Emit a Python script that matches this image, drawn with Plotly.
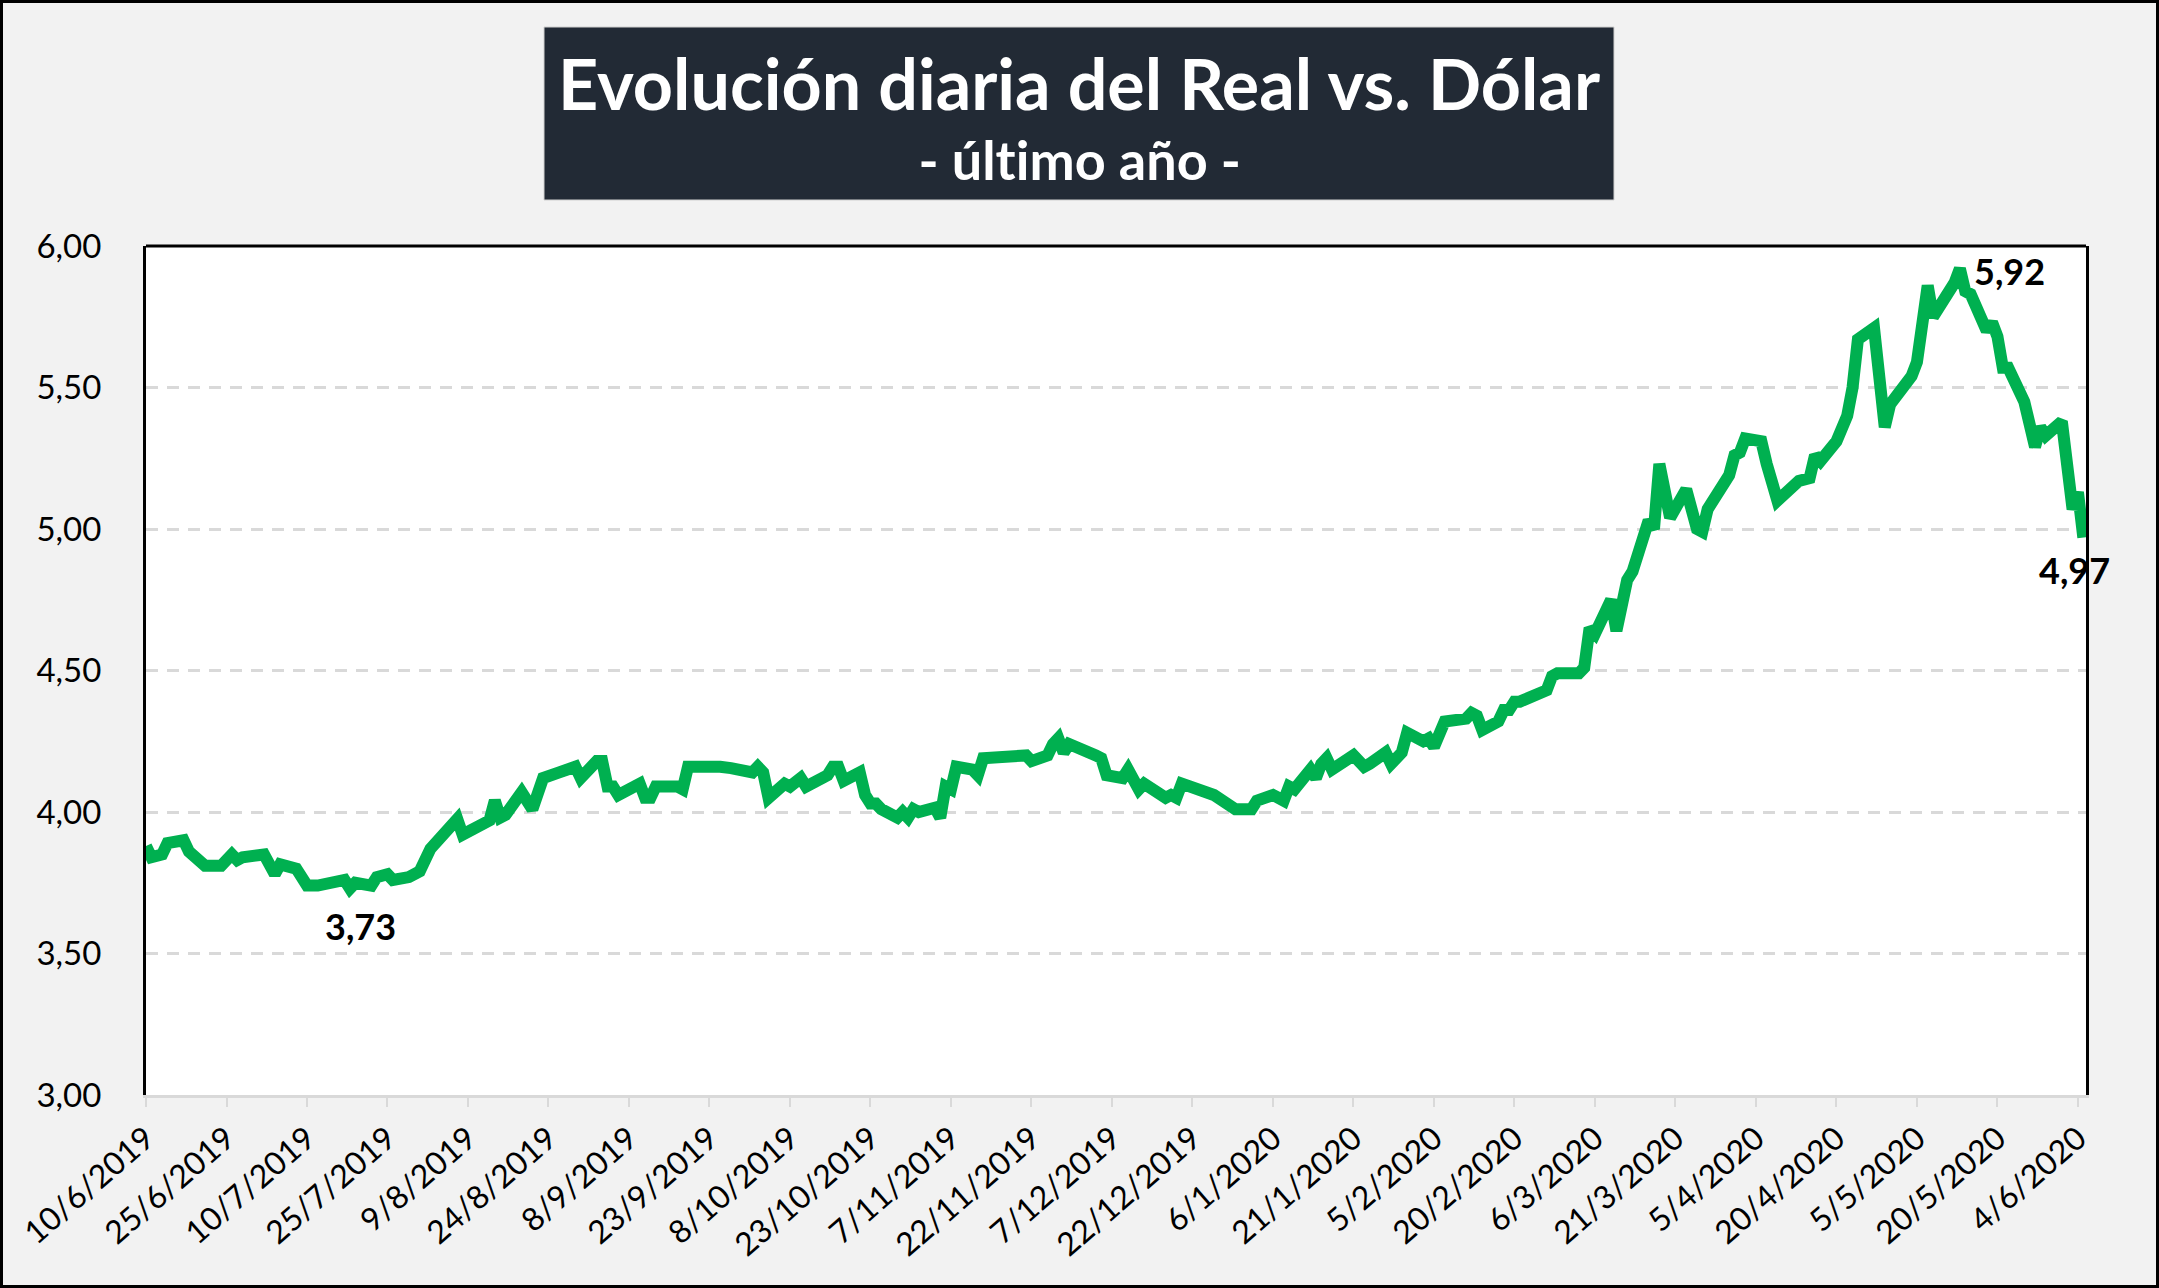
import plotly.graph_objects as go
from datetime import datetime

# ---------------- data ----------------
dates = [
    "2019-06-10", "2019-06-11", "2019-06-13", "2019-06-14", "2019-06-17", "2019-06-18",
    "2019-06-21", "2019-06-24", "2019-06-26", "2019-06-27", "2019-06-28", "2019-07-02",
    "2019-07-04", "2019-07-05", "2019-07-08", "2019-07-10", "2019-07-12", "2019-07-16",
    "2019-07-17", "2019-07-18", "2019-07-19", "2019-07-22", "2019-07-23", "2019-07-25",
    "2019-07-26", "2019-07-29", "2019-07-31", "2019-08-02", "2019-08-06", "2019-08-07",
    "2019-08-08", "2019-08-13", "2019-08-14", "2019-08-15", "2019-08-16", "2019-08-19",
    "2019-08-21", "2019-08-23", "2019-08-26", "2019-08-27", "2019-08-28", "2019-08-29",
    "2019-08-30", "2019-09-02", "2019-09-03", "2019-09-04", "2019-09-05", "2019-09-06",
    "2019-09-10", "2019-09-11", "2019-09-12", "2019-09-13", "2019-09-17", "2019-09-18",
    "2019-09-19", "2019-09-20", "2019-09-24", "2019-09-25", "2019-09-27", "2019-09-30",
    "2019-10-01", "2019-10-02", "2019-10-03", "2019-10-04", "2019-10-07", "2019-10-08",
    "2019-10-10", "2019-10-11", "2019-10-15", "2019-10-16", "2019-10-17", "2019-10-18",
    "2019-10-21", "2019-10-22", "2019-10-23", "2019-10-24", "2019-10-25", "2019-10-28",
    "2019-10-29", "2019-10-30", "2019-10-31", "2019-11-01", "2019-11-04", "2019-11-05",
    "2019-11-06", "2019-11-07", "2019-11-08", "2019-11-11", "2019-11-12", "2019-11-13",
    "2019-11-19", "2019-11-21", "2019-11-22", "2019-11-25", "2019-11-26", "2019-11-27",
    "2019-11-28", "2019-11-29", "2019-12-04", "2019-12-05", "2019-12-06", "2019-12-09",
    "2019-12-10", "2019-12-11", "2019-12-12", "2019-12-13", "2019-12-17", "2019-12-18",
    "2019-12-19", "2019-12-20", "2019-12-26", "2019-12-30", "2020-01-02", "2020-01-03",
    "2020-01-06", "2020-01-08", "2020-01-09", "2020-01-10", "2020-01-13", "2020-01-14",
    "2020-01-15", "2020-01-16", "2020-01-17", "2020-01-21", "2020-01-23", "2020-01-24",
    "2020-01-27", "2020-01-28", "2020-01-30", "2020-01-31", "2020-02-03", "2020-02-04",
    "2020-02-05", "2020-02-07", "2020-02-11", "2020-02-12", "2020-02-13", "2020-02-14",
    "2020-02-17", "2020-02-18", "2020-02-19", "2020-02-20", "2020-02-21", "2020-02-26",
    "2020-02-27", "2020-02-28", "2020-03-02", "2020-03-03", "2020-03-04", "2020-03-05",
    "2020-03-06", "2020-03-09", "2020-03-10", "2020-03-12", "2020-03-13", "2020-03-16",
    "2020-03-17", "2020-03-18", "2020-03-20", "2020-03-23", "2020-03-25", "2020-03-26",
    "2020-03-27", "2020-03-30", "2020-03-31", "2020-04-01", "2020-04-02", "2020-04-03",
    "2020-04-06", "2020-04-07", "2020-04-09", "2020-04-13", "2020-04-15", "2020-04-16",
    "2020-04-17", "2020-04-20", "2020-04-22", "2020-04-23", "2020-04-24", "2020-04-27",
    "2020-04-29", "2020-04-30", "2020-05-04", "2020-05-05", "2020-05-06", "2020-05-07",
    "2020-05-08", "2020-05-11", "2020-05-12", "2020-05-13", "2020-05-14", "2020-05-15",
    "2020-05-18", "2020-05-19", "2020-05-20", "2020-05-21", "2020-05-22", "2020-05-25",
    "2020-05-26", "2020-05-27", "2020-05-28", "2020-05-29", "2020-06-01", "2020-06-03",
    "2020-06-04", "2020-06-05",
]

values = [
    3.88, 3.84, 3.85, 3.89, 3.90, 3.86,
    3.81, 3.81, 3.85, 3.83, 3.84, 3.85,
    3.78, 3.815, 3.80, 3.74, 3.74, 3.76,
    3.76, 3.73, 3.75, 3.74, 3.77, 3.78,
    3.76, 3.77, 3.79, 3.87, 3.96, 3.975,
    3.92, 3.97, 4.04, 3.98, 3.99, 4.07,
    4.01, 4.12, 4.14, 4.15, 4.16, 4.16,
    4.12, 4.18, 4.18, 4.09, 4.09, 4.06,
    4.10, 4.05, 4.05, 4.09, 4.09, 4.08,
    4.16, 4.16, 4.17, 4.16, 4.155, 4.15,
    4.14, 4.16, 4.14, 4.05, 4.10, 4.09,
    4.12, 4.09, 4.13, 4.16, 4.16, 4.11,
    4.14, 4.06, 4.03, 4.03, 4.01, 3.98,
    4.00, 3.98, 4.01, 4.00, 4.015, 3.98,
    4.09, 4.08, 4.16, 4.15, 4.13, 4.19,
    4.20, 4.20, 4.18, 4.20, 4.24, 4.26,
    4.21, 4.24, 4.20, 4.19, 4.13, 4.12,
    4.15, 4.11, 4.08, 4.10, 4.05, 4.06,
    4.05, 4.10, 4.06, 4.01, 4.01, 4.04,
    4.06, 4.04, 4.09, 4.08, 4.15, 4.12,
    4.17, 4.19, 4.15, 4.20, 4.16, 4.17,
    4.21, 4.17, 4.21, 4.28, 4.25, 4.26,
    4.23, 4.32, 4.33, 4.35, 4.34, 4.29,
    4.32, 4.36, 4.36, 4.39, 4.39, 4.43,
    4.48, 4.49, 4.49, 4.49, 4.51, 4.65,
    4.63, 4.75, 4.64, 4.82, 4.85, 5.03,
    5.00, 5.23, 5.04, 5.14, 5.00, 4.99,
    5.07, 5.17, 5.19, 5.26, 5.27, 5.32,
    5.31, 5.23, 5.10, 5.17, 5.18, 5.26,
    5.24, 5.31, 5.40, 5.50, 5.67, 5.71,
    5.36, 5.44, 5.54, 5.59, 5.72, 5.86,
    5.75, 5.83, 5.87, 5.92, 5.84, 5.83,
    5.70, 5.73, 5.68, 5.57, 5.57, 5.45,
    5.34, 5.29, 5.36, 5.33, 5.38, 5.07,
    5.13, 4.97,
]

tick_labels = [
    "10/6/2019", "25/6/2019", "10/7/2019", "25/7/2019", "9/8/2019", "24/8/2019",
    "8/9/2019", "23/9/2019", "8/10/2019", "23/10/2019", "7/11/2019", "22/11/2019",
    "7/12/2019", "22/12/2019", "6/1/2020", "21/1/2020", "5/2/2020", "20/2/2020",
    "6/3/2020", "21/3/2020", "5/4/2020", "20/4/2020", "5/5/2020", "20/5/2020",
    "4/6/2020",
]
y_ticks = [3.0, 3.5, 4.0, 4.5, 5.0, 5.5, 6.0]

title_text = "Evolución diaria del Real vs. Dólar"
subtitle_text = "- último año -"

# ---------------- layout geometry (pixels of the 2159x1288 page) ----------------
W, H = 2159, 1288
PL, PR, PT, PB = 146, 2086, 246, 1095


def fx(x):
    return (x - PL) / (PR - PL)


def fy(y):
    return (PB - y) / (PB - PT)


FONT = "Lato"
tickvals = [datetime.strptime(t, "%d/%m/%Y") for t in tick_labels]

fig = go.Figure()
fig.add_trace(go.Scatter(
    x=dates, y=values, mode="lines",
    line=dict(color="#00b050", width=12, shape="linear"),
    hoverinfo="skip", showlegend=False,
))


def fmt(v):
    return f"{v:.2f}".replace(".", ",")


i_min = values.index(min(values))
i_max = values.index(max(values))
i_last = len(values) - 1
label_font = dict(family=FONT, size=36, color="#000000", weight="bold")
fig.add_annotation(x=dates[i_min], y=values[i_min], text=fmt(values[i_min]),
                   showarrow=False, xshift=11, yshift=-38, font=label_font)
fig.add_annotation(x=dates[i_max], y=values[i_max], text=fmt(values[i_max]),
                   showarrow=False, xshift=50, yshift=-2, font=label_font)
fig.add_annotation(x=dates[i_last], y=values[i_last], text=fmt(values[i_last]),
                   showarrow=False, xshift=-9, yshift=-33, font=label_font)

# title box
fig.add_shape(type="rect", xref="paper", yref="paper",
              x0=fx(544), x1=fx(1614), y0=fy(200), y1=fy(27),
              fillcolor="#222a35", line=dict(color="#d0d0d0", width=1), layer="above")
fig.add_annotation(xref="paper", yref="paper", x=fx(1079), y=fy(83),
                   text=title_text, showarrow=False, xanchor="center", yanchor="middle",
                   font=dict(family=FONT, size=70, color="#ffffff", weight="bold"))
fig.add_annotation(xref="paper", yref="paper", x=fx(1079), y=fy(160),
                   text=subtitle_text, showarrow=False, xanchor="center", yanchor="middle",
                   font=dict(family=FONT, size=54, color="#ffffff", weight="bold"))

# top border of plot area
fig.add_shape(type="line", xref="paper", yref="paper", x0=0, x1=1, y0=1, y1=1,
              line=dict(color="#000000", width=3))
# outer frame
fig.add_shape(type="rect", xref="paper", yref="paper",
              x0=fx(1.5), x1=fx(W - 1.5), y0=fy(H - 1.5), y1=fy(1.5),
              line=dict(color="#000000", width=3), fillcolor="rgba(0,0,0,0)")

fig.update_layout(
    width=W, height=H,
    margin=dict(l=PL, r=W - PR, t=PT, b=H - PB, pad=0),
    paper_bgcolor="#f2f2f2", plot_bgcolor="#ffffff",
    separators=",.",
    font=dict(family=FONT, color="#000000"),
    showlegend=False,
)
fig.update_xaxes(
    type="date", range=["2019-06-10", "2020-06-05 12:00"],
    tickvals=tickvals, ticktext=tick_labels, tickangle=-41,
    tickfont=dict(family=FONT, size=32, color="#000000"),
    showgrid=False, zeroline=False,
    showline=True, linecolor="#d9d9d9", linewidth=3,
    ticks="outside", tickcolor="#d9d9d9", ticklen=9, tickwidth=2,
)
fig.update_yaxes(
    range=[3.0, 6.0], tickvals=y_ticks, tickformat=".2f",
    tickfont=dict(family=FONT, size=33, color="#000000"),
    showgrid=True, gridcolor="#d9d9d9", gridwidth=3, griddash="12px,9px",
    zeroline=False,
    showline=True, linecolor="#000000", linewidth=3, mirror=True,
    ticks="outside", ticklen=35, tickcolor="rgba(0,0,0,0)",
)

post = (
    "document.body.style.margin='0';"
    "document.body.style.overflow='hidden';"
    "var st=document.createElement('style');"
    "st.textContent='svg text{font-variant-ligatures:none;font-feature-settings:\"liga\" 0;}';"
    "document.head.appendChild(st);"
)
fig.write_html("out.html", config={"displayModeBar": False}, post_script=post)
